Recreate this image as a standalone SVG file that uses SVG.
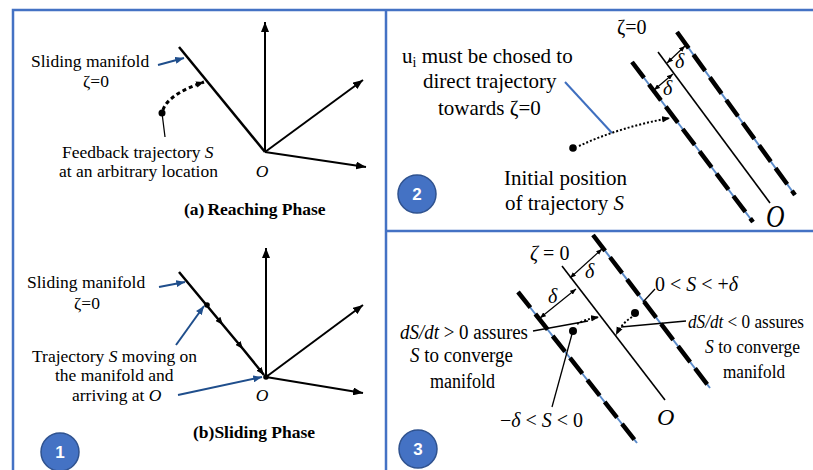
<svg xmlns="http://www.w3.org/2000/svg" width="813" height="470" viewBox="0 0 813 470">
<defs>
<style>
.t{font-family:"Liberation Serif","Times New Roman",serif;fill:#000}
.p1{font-size:17.5px}
.p2{font-size:21px}
.p3{font-size:20px}
.p3r{font-size:19px}
.b{font-weight:bold}
.i{font-style:italic}
.frame{stroke:#4472C4;stroke-width:2.5;fill:none}
.ax{stroke:#000;stroke-width:2;fill:none;marker-end:url(#ah)}
.man{stroke:#000;stroke-width:2.5;fill:none}
.lead{stroke:#1F4E8C;stroke-width:2;fill:none;marker-end:url(#ahb)}
.thin{stroke:#000;stroke-width:1.3;fill:none}
.dotted{stroke:#000;stroke-width:2;stroke-dasharray:2 2;fill:none;marker-end:url(#ahs)}
.bl{stroke:#5B8BC9;stroke-width:2;fill:none}
.bk{stroke:#000;stroke-width:4.5;stroke-dasharray:20 8;fill:none}
.mid{stroke:#000;stroke-width:1.6;fill:none}
.dim{stroke:#000;stroke-width:1.2;fill:none;marker-start:url(#ahd);marker-end:url(#ahd)}
.badge circle{fill:#4472C4;stroke:#2F528F;stroke-width:1.5}
.badge text{font-family:"Liberation Sans",Arial,sans-serif;font-weight:bold;font-size:17px;fill:#fff;text-anchor:middle}
</style>
<marker id="ah" viewBox="0 0 10 8" refX="10" refY="4" markerWidth="10" markerHeight="8" markerUnits="userSpaceOnUse" orient="auto"><path d="M0,0 L10,4 L0,8 z" fill="#000"/></marker>
<marker id="ahb" viewBox="0 0 10 8" refX="10" refY="4" markerWidth="9" markerHeight="7" markerUnits="userSpaceOnUse" orient="auto"><path d="M0,0 L10,4 L0,8 z" fill="#1F4E8C"/></marker>
<marker id="ahs" viewBox="0 0 10 8" refX="10" refY="4" markerWidth="8" markerHeight="7" markerUnits="userSpaceOnUse" orient="auto"><path d="M0,0 L10,4 L0,8 z" fill="#000"/></marker>
<marker id="ahm" viewBox="0 0 10 8" refX="10" refY="4" markerWidth="8" markerHeight="7" markerUnits="userSpaceOnUse" orient="auto"><path d="M0,0 L10,4 L0,8 z" fill="#000"/></marker>
<marker id="ahd" viewBox="0 0 10 8" refX="10" refY="4" markerWidth="6" markerHeight="5" markerUnits="userSpaceOnUse" orient="auto-start-reverse"><path d="M0,0 L10,4 L0,8 z" fill="#000"/></marker>
</defs>
<rect width="813" height="470" fill="#fff"/>

<g id="frames">
<path class="frame" d="M13,470 L13,10 L813,10"/>
<path class="frame" d="M386,10 L386,470"/>
<path class="frame" d="M386,231 L813,231"/>
</g>

<g id="connectors">
<!-- panel a -->
<line class="man" x1="179" y1="47" x2="265" y2="152"/>
<line class="ax" x1="265" y1="152" x2="265" y2="22"/>
<line class="ax" x1="265" y1="152" x2="363" y2="80"/>
<line class="ax" x1="265" y1="152" x2="366" y2="167"/>
<line class="lead" x1="158" y1="65" x2="184" y2="58"/>
<path d="M163,110 C166,100 180,90 204,82" stroke="#000" stroke-width="3" stroke-dasharray="4 3" fill="none" marker-end="url(#ahs)"/>
<line class="thin" x1="162" y1="113" x2="165" y2="137"/>
<circle cx="162" cy="113" r="3.5" fill="#000"/>
<!-- panel b -->
<path class="man" d="M179,272 L223,325 L243,349 L264,375" marker-mid="url(#ahm)" marker-end="url(#ahm)"/>
<line class="ax" x1="266" y1="377" x2="266" y2="248"/>
<line class="ax" x1="266" y1="377" x2="363" y2="305"/>
<line class="ax" x1="266" y1="377" x2="363" y2="393"/>
<circle cx="207" cy="305" r="2.8" fill="#000"/>
<circle cx="266" cy="377" r="2.8" fill="#000"/>
<line class="lead" x1="159" y1="287" x2="185" y2="282"/>
<line class="lead" x1="176" y1="345" x2="204" y2="306"/>
<line class="lead" x1="178" y1="395" x2="262" y2="377"/>
<!-- panel 2 -->
<line class="bl" x1="632" y1="62" x2="753" y2="222"/>
<line class="bk" x1="632" y1="62" x2="753" y2="222"/>
<line class="mid" x1="658" y1="52" x2="770" y2="203"/>
<line class="bl" x1="677" y1="32" x2="795" y2="195"/>
<line class="bk" x1="677" y1="32" x2="795" y2="195"/>
<line class="dim" x1="667" y1="63" x2="685" y2="46"/>
<line class="dim" x1="654" y1="90" x2="673" y2="74"/>
<line x1="565" y1="82" x2="612" y2="133" stroke="#3F6FBF" stroke-width="2"/>
<circle cx="573" cy="148" r="3.8" fill="#000"/>
<path class="dotted" d="M579,146 Q620,127 670,118"/>
<!-- panel 3 -->
<line class="bl" x1="518" y1="292" x2="637" y2="443"/>
<line class="bk" x1="518" y1="292" x2="637" y2="443"/>
<line class="mid" x1="562" y1="266" x2="665" y2="400" stroke-width="2"/>
<line class="bl" x1="593" y1="235" x2="710" y2="388"/>
<line class="bk" x1="593" y1="235" x2="710" y2="388"/>
<line class="dim" x1="570" y1="278" x2="602" y2="249"/>
<line class="dim" x1="540" y1="318" x2="576" y2="289"/>
<line class="thin" x1="655" y1="289" x2="643" y2="302"/>
<circle cx="635" cy="313" r="4" fill="#000"/>
<path class="dotted" d="M632,317 Q622,323 616,335"/>
<line class="thin" x1="686" y1="321" x2="621" y2="327"/>
<circle cx="573" cy="331" r="4" fill="#000"/>
<line class="thin" x1="533" y1="331" x2="588" y2="321"/>
<path class="dotted" d="M577,324 Q586,319 599,317"/>
<line class="thin" x1="552" y1="407" x2="572" y2="334"/>
</g>

<g id="panel-a">
<text class="t p1" x="31" y="67">Sliding manifold</text>
<text class="t p1" x="96" y="87" text-anchor="middle">ζ=0</text>
<text class="t p1" x="62" y="158">Feedback trajectory <tspan class="i">S</tspan></text>
<text class="t p1" x="59" y="177">at an arbitrary location</text>
<text class="t p1 i" x="262" y="177" text-anchor="middle">O</text>
<text class="t p1 b" x="184" y="215">(a)<tspan dx="3">Reaching Phase</tspan></text>
</g>

<g id="panel-b">
<text class="t p1" x="27" y="288">Sliding manifold</text>
<text class="t p1" x="87" y="309" text-anchor="middle">ζ=0</text>
<text class="t p1" x="32" y="362">Trajectory <tspan class="i">S</tspan> moving on</text>
<text class="t p1" x="55" y="381">the manifold and</text>
<text class="t p1" x="72" y="401">arriving at <tspan class="i">O</tspan></text>
<text class="t p1 i" x="262" y="401" text-anchor="middle">O</text>
<text class="t p1 b" x="193" y="438">(b)Sliding Phase</text>
</g>

<g id="panel-2">
<text class="t p2" x="402" y="63">u<tspan font-size="14" dy="4">i</tspan><tspan dy="-4"> must be chosed to</tspan></text>
<text class="t p2" x="423" y="88">direct trajectory</text>
<text class="t p2" x="438" y="115">towards ζ=0</text>
<text class="t p2" x="504" y="185">Initial position</text>
<text class="t p2" x="505" y="210">of trajectory <tspan class="i">S</tspan></text>
<text class="t" font-size="20" x="617" y="34">ζ=0</text>
<text class="t i" font-size="20" x="675" y="68">δ</text>
<text class="t i" font-size="20" x="663" y="95">δ</text>
<text class="t i" font-size="32" transform="translate(766,227) scale(0.8,1)">O</text>
</g>

<g id="panel-3">
<text class="t p3" x="530" y="260"><tspan class="i">ζ</tspan> = 0</text>
<text class="t p3 i" x="585" y="278">δ</text>
<text class="t p3 i" x="548" y="303">δ</text>
<text class="t p3" x="655" y="291" textLength="83" lengthAdjust="spacingAndGlyphs">0 &lt; <tspan class="i">S</tspan> &lt; +<tspan class="i">δ</tspan></text>
<text class="t p3" x="400" y="339" textLength="128" lengthAdjust="spacingAndGlyphs"><tspan class="i">dS/dt</tspan> &gt; 0 assures</text>
<text class="t p3" x="410" y="362" textLength="103" lengthAdjust="spacingAndGlyphs"><tspan class="i">S</tspan> to converge</text>
<text class="t p3" x="430" y="388" textLength="65" lengthAdjust="spacingAndGlyphs">manifold</text>
<text class="t p3r" x="688" y="328" textLength="116" lengthAdjust="spacingAndGlyphs"><tspan class="i">dS/dt</tspan> &lt; 0 assures</text>
<text class="t p3r" x="705" y="353" textLength="95" lengthAdjust="spacingAndGlyphs"><tspan class="i">S</tspan> to converge</text>
<text class="t p3r" x="723" y="378" textLength="62" lengthAdjust="spacingAndGlyphs">manifold</text>
<text class="t p3" x="500" y="427" textLength="83" lengthAdjust="spacingAndGlyphs">−<tspan class="i">δ</tspan> &lt; <tspan class="i">S</tspan> &lt; 0</text>
<text class="t i" font-size="24" x="657" y="425">O</text>
</g>

<g id="badge-1" class="badge"><circle cx="60" cy="452" r="19"/><text x="60" y="458">1</text></g>
<g id="badge-2" class="badge"><circle cx="417" cy="194" r="19"/><text x="417" y="200">2</text></g>
<g id="badge-3" class="badge"><circle cx="418" cy="449" r="19"/><text x="418" y="455">3</text></g>
</svg>
